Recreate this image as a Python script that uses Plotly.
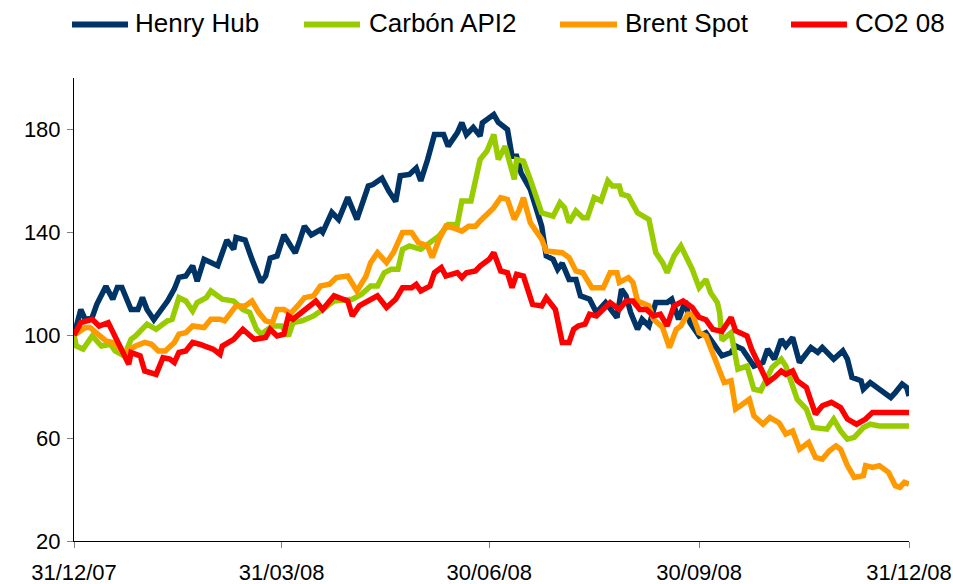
import pandas as pd
import plotly.graph_objects as go

START = pd.Timestamp("2007-12-31")

# ---- data: days since 31/12/07 and index values (base 100) ----
hh_days = [0, 3, 5, 8, 10, 14, 17, 19, 21, 25, 28, 30, 32, 35, 41, 44, 46, 49, 52, 54, 57, 63, 67, 70, 71,
           75, 78, 82, 84, 86, 89, 92, 95, 97, 99, 101, 104, 108, 109, 113, 116, 120, 124, 129, 131, 135,
           138, 141, 143, 147, 150, 152, 155, 158, 162, 164, 168, 170, 172, 175, 178, 179, 184, 186, 190,
           192, 194, 196, 200, 203, 205, 207, 210, 212, 214, 217, 220, 222, 226, 229, 233, 238, 240, 242,
           244, 247, 249, 252, 255, 260, 262, 265, 268, 270, 274, 277, 280, 284, 288, 290, 293, 298, 302,
           304, 307, 310, 312, 315, 318, 323, 326, 328, 333, 337, 339, 341, 345, 346, 349, 353, 358, 360,
           363, 365, 366]
hh_vals = [100, 110, 106, 107, 112, 119, 114, 118.6, 118.6, 110, 110, 114.7, 110, 106, 113.3, 118, 122.5,
           123, 127, 121, 129.5, 127, 137, 133.4, 138, 137, 129.5, 120.6, 123, 130, 130.8, 139, 134.7, 132,
           137, 142.4, 139, 141, 140, 147.8, 145, 153.6, 145, 158, 158.6, 161, 156, 152, 162, 162.5, 165,
           160, 168.3, 178, 178, 173.5, 178.7, 182.6, 178, 180.8, 177.4, 182.6, 185.8, 182.7, 180, 169.6,
           169.6, 163, 156.7, 147.7, 142.4, 130.8, 129.5, 125.6, 128, 121.7, 121.7, 115.3, 114, 108.8,
           112.7, 106.9, 117.9, 115.3, 108.8, 102.3, 106.2, 103.6, 112.7, 112.7, 114, 106.2, 113.3, 104.9,
           99.7, 101, 97.2, 92, 93.3, 95.8, 94.6, 88, 89.4, 94.6, 90.7, 98.4, 95.8, 99.1, 89.4, 95.2, 93.3,
           95.2, 90.7, 93.9, 90.7, 83.6, 82.3, 79, 81.6, 79, 75.8, 77.7, 81, 79.7, 76.4]

api2_days = [0, 1, 4, 8, 12, 16, 18, 22, 25, 27, 32, 36, 41, 43, 46, 49, 52, 54, 58, 60, 65, 70, 74, 77, 80,
             82, 87, 91, 94, 96, 100, 105, 109, 114, 122, 126, 130, 133, 136, 139, 142, 144, 147, 150, 152,
             156, 160, 164, 168, 170, 174, 178, 181, 184, 186, 189, 193, 194, 197, 200, 203, 205, 210, 213,
             215, 217, 220, 223, 225, 228, 231, 234, 236, 239, 240, 243, 247, 250, 252, 255, 258, 260, 263,
             266, 269, 271, 274, 277, 279, 282, 283, 284, 288, 289, 291, 295, 298, 301, 304, 306, 310, 312,
             317, 321, 324, 330, 333, 336, 339, 342, 346, 349, 353, 366]
api2_vals = [100, 95.8, 94.6, 99.7, 95.8, 96.5, 93.9, 92, 98.4, 99.7, 104.3, 102.3, 105.6, 106.2, 114.6,
             113.3, 109.4, 112.7, 114.6, 117.2, 114, 113.3, 110, 108.8, 102.3, 100.4, 103.6, 103.6, 99.7,
             104.9, 105.6, 107.5, 110, 113.3, 114, 115.9, 119.1, 119.1, 124.3, 125.6, 125.6, 133.4, 134.7,
             134, 133.4, 136, 138.6, 143, 143, 152.2, 152.2, 168.3, 171.6, 178, 168.3, 173.5, 160.6, 168.3,
             167.7, 160.6, 152.8, 147.6, 146.3, 151.5, 149.6, 143.8, 148.3, 145.7, 145.7, 153.5, 152.2, 160,
             158, 158, 154.8, 154.1, 147.6, 146.3, 145, 132.1, 128.2, 124.3, 130.8, 134.7, 129.5, 125.6,
             118.5, 121.7, 116.6, 112.7, 108.8, 98, 101, 95.8, 86.8, 88, 79, 78.4, 84.2, 87.5, 90.7, 88,
             75.1, 71.3, 64.1, 63.5, 67.4, 62.8, 59.6, 60.3, 64.1, 65.4, 64.7, 64.7]

brent_days = [0, 5, 7, 11, 14, 17, 22, 27, 31, 34, 37, 40, 44, 46, 49, 52, 57, 60, 64, 66, 68, 71, 75, 78,
              81, 84, 87, 89, 92, 95, 98, 101, 105, 108, 112, 115, 120, 124, 128, 130, 133, 137, 140, 144,
              148, 151, 155, 157, 160, 163, 166, 170, 173, 176, 178, 182, 184, 187, 190, 193, 195, 197, 200,
              203, 205, 207, 211, 214, 217, 220, 223, 227, 232, 235, 238, 239, 243, 245, 247, 252, 254, 258,
              261, 264, 266, 269, 271, 274, 277, 280, 282, 285, 288, 290, 293, 296, 298, 302, 305, 309, 312,
              315, 318, 322, 325, 328, 331, 334, 336, 339, 342, 346, 347, 350, 353, 357, 360, 362, 364, 366]
brent_vals = [100, 103, 103, 99.7, 97.8, 97.2, 93.3, 95.8, 97.2, 96.5, 93.9, 93.9, 97.2, 100.4, 101, 103.6,
              103, 106.2, 106.2, 105.6, 108.2, 111.4, 111.4, 113.3, 108.8, 105.6, 104.9, 110, 110, 108.5,
              111.4, 114.6, 115.3, 119.1, 119.8, 122.4, 123, 117.2, 123, 128.2, 132.1, 128.2, 132.1, 139.9,
              139.9, 136, 134.7, 130.2, 137.3, 142.4, 141.8, 140.5, 142.4, 142.4, 144.4, 148.3, 149.6, 153.5,
              152.8, 145, 148.5, 153.5, 143.8, 139.9, 137.3, 132.7, 132.1, 132.1, 130.2, 125, 124.3, 118.5,
              118.5, 124.3, 124.3, 120.5, 122.4, 120.5, 113.3, 111.4, 106.2, 103, 95.2, 102.3, 103.6, 108.2,
              108.2, 101, 99.7, 93, 89.4, 81.6, 82.3, 71.3, 73.2, 75.1, 68.7, 65.4, 68, 66, 61.6, 62.8, 55.7,
              58.3, 52.5, 51.8, 55, 57, 55.7, 49.3, 44.7, 45.4, 49.3, 48.6, 49.3, 46.7, 41.5, 40.9, 42.8, 42.1]

co2_days = [0, 3, 8, 11, 15, 18, 21, 24, 25, 29, 31, 34, 36, 39, 42, 44, 46, 49, 52, 55, 58, 61, 64, 65, 70,
            74, 79, 82, 84, 86, 89, 92, 94, 96, 101, 106, 109, 114, 120, 122, 125, 130, 133, 137, 141, 144,
            148, 150, 152, 156, 158, 161, 163, 168, 170, 172, 176, 178, 182, 184, 187, 190, 192, 194, 197,
            201, 205, 207, 211, 214, 217, 219, 221, 224, 226, 229, 232, 235, 239, 242, 245, 248, 251, 254,
            257, 260, 263, 267, 271, 274, 277, 280, 284, 288, 290, 295, 297, 300, 304, 307, 310, 312, 315,
            317, 321, 325, 328, 332, 336, 339, 343, 347, 350, 366]
co2_vals = [100, 104.9, 106.2, 103.6, 104.9, 99.1, 93.3, 88.7, 93.3, 92, 86.1, 85.5, 84.8, 91.3, 90.7, 89.4,
            93.3, 93.9, 97.2, 96.5, 95.8, 94.6, 92.6, 95.8, 98.4, 102.3, 98.4, 99.1, 99.1, 102.3, 99.7, 100.4,
            107.5, 106.2, 110, 113.3, 110, 115.3, 113.3, 107.5, 111.4, 114, 115.3, 110.8, 114, 118.5, 118.5,
            119.8, 117.2, 119.1, 124.3, 126.3, 123, 124.3, 122.4, 124.3, 125, 126.9, 129.5, 132.1, 125, 124.3,
            118.5, 123.7, 123, 112, 111.4, 114.6, 110, 97.2, 97.2, 102.3, 103.6, 104.3, 108.2, 107.5, 110,
            112.7, 110, 113.3, 113.3, 110, 110, 107.5, 108.2, 103.6, 111.4, 113.3, 110.8, 107, 106, 102.3,
            101.5, 106.9, 101.7, 99.7, 94.6, 88.7, 81.6, 83.6, 86.1, 84.8, 86.1, 82.3, 79.7, 69.3, 72.6, 73.9,
            71.9, 67.4, 65.4, 67.4, 70, 70]

series_names = ["Henry Hub", "Carbón API2", "Brent Spot", "CO2 08"]
series_colors = ["#003466", "#99CC00", "#FF9900", "#FF0000"]
series_days = [hh_days, api2_days, brent_days, co2_days]
series_vals = [hh_vals, api2_vals, brent_vals, co2_vals]

tick_dates = ["2007-12-31", "2008-03-31", "2008-06-30", "2008-09-30", "2008-12-31"]
tick_labels = ["31/12/07", "31/03/08", "30/06/08", "30/09/08", "31/12/08"]
y_ticks = [20, 60, 100, 140, 180]

FONT = "Liberation Sans, Arial, sans-serif"

fig = go.Figure()
for name, color, days, vals in zip(series_names, series_colors, series_days, series_vals):
    dates = START + pd.to_timedelta(days, unit="D")
    fig.add_trace(go.Scatter(x=dates, y=vals, name=name, mode="lines",
                             line=dict(color=color, width=5.5), showlegend=False,
                             hoverinfo="skip"))

# manual legend (line sample + label)
legend_line_x = [(-0.0024, 0.0647), (0.2754, 0.3425), (0.582, 0.6503), (0.8587, 0.9257)]
legend_text_x = [0.0701, 0.3503, 0.6575, 0.9329]
leg_y = 1.1154
for name, color, (x0, x1), tx in zip(series_names, series_colors, legend_line_x, legend_text_x):
    fig.add_shape(type="line", xref="paper", yref="paper", x0=x0, x1=x1, y0=leg_y, y1=leg_y,
                  line=dict(color=color, width=6))
    fig.add_annotation(text=name, xref="paper", yref="paper", x=tx, y=leg_y + 0.004,
                       xanchor="left", yanchor="middle", showarrow=False,
                       font=dict(family=FONT, size=26, color="#000000"))

fig.update_layout(
    width=953, height=584,
    margin=dict(l=74, r=44, t=77.5, b=43, autoexpand=False),
    paper_bgcolor="white", plot_bgcolor="white",
    font=dict(family=FONT, size=22, color="#000000"),
)
fig.update_xaxes(type="date", range=["2007-12-31", "2008-12-31"], automargin=False,
                 tickvals=tick_dates, ticktext=tick_labels,
                 showgrid=False, zeroline=False, showline=True, linecolor="#000000", linewidth=1,
                 ticks="outside", ticklen=6, tickcolor="#808080", ticklabelstandoff=6,
                 tickfont=dict(family=FONT, size=22, color="#000000"))
fig.update_yaxes(range=[20, 200], tickvals=y_ticks, automargin=False,
                 showgrid=False, zeroline=False, showline=True, linecolor="#000000", linewidth=1,
                 ticks="outside", ticklen=6, tickcolor="#808080", ticklabelstandoff=2,
                 tickfont=dict(family=FONT, size=22, color="#000000"))

fig.write_html("out.html", config={"displayModeBar": False},
               post_script="document.body.style.margin='0';")
